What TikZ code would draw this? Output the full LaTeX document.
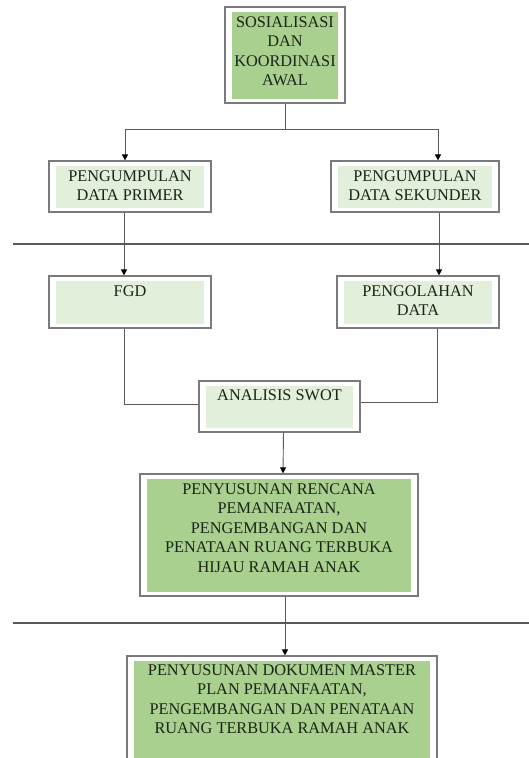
\documentclass[tikz,border=0pt]{standalone}
\usepackage{fontspec}
\setmainfont{Liberation Serif}
\usetikzlibrary{positioning, arrows.meta}
\definecolor{leafgreen}{HTML}{A9D08E}
\definecolor{palegreen}{HTML}{E2EFDA}
\definecolor{framegray}{HTML}{7A7A7A}
\definecolor{linegray}{HTML}{5A5A5A}
\definecolor{inkdark}{HTML}{1A2418}

\begin{document}
\begin{tikzpicture}[
    x=1pt, y=-1pt,
    panel/.style={
        rectangle, draw=framegray, line width=1.2pt, fill=white, inner sep=0pt,
        path picture={\fill[#1]
            ([xshift=7pt,yshift=4.5pt]path picture bounding box.south west) rectangle
            ([xshift=-7pt,yshift=-4.5pt]path picture bounding box.north east);}
    },
    txt/.style={inner sep=0pt, align=center, text=inkdark,
        font=\fontsize{16.3}{19.5}\selectfont},
    link/.style={draw=linegray, line width=0.9pt},
    arr/.style={link, -{Triangle[length=6pt,width=6pt,color=black]}},
    rule/.style={draw=linegray, line width=1.2pt},
]
\useasboundingbox (0,0) rectangle (529,758);
\clip (0,0) rectangle (529,758);

% Start
\node[panel=leafgreen, minimum width=120pt, minimum height=96pt] (sos) at (285,55) {};
\node[txt, below=10pt of sos.north] (sostxt) {SOSIALISASI\\DAN\\KOORDINASI\\AWAL};

% Data collection
\node[panel=palegreen, minimum width=162pt, minimum height=51pt] (pri) at (130,186.5) {};
\node[txt, below=10pt of pri.north] (pritxt) {PENGUMPULAN\\DATA PRIMER};
\node[panel=palegreen, minimum width=168pt, minimum height=51pt] (sek) at (415,186.5) {};
\node[txt, below=10pt of sek.north] (sektxt) {PENGUMPULAN\\DATA SEKUNDER};

% Processing
\node[panel=palegreen, minimum width=162pt, minimum height=52pt] (fgd) at (130,302) {};
\node[txt, below=10pt of fgd.north] (fgdtxt) {FGD};
\node[panel=palegreen, minimum width=162pt, minimum height=52pt] (olah) at (418,302) {};
\node[txt, below=10pt of olah.north] (olahtxt) {PENGOLAHAN\\DATA};

% Analysis
\node[panel=palegreen, minimum width=161pt, minimum height=51pt] (swot) at (279.5,406.5) {};
\node[txt, below=9pt of swot.north] (swottxt) {ANALISIS SWOT};

% Plan
\node[panel=leafgreen, minimum width=278pt, minimum height=122pt] (rencana) at (279,535) {};
\node[txt, below=10pt of rencana.north] (rencanatxt) {PENYUSUNAN RENCANA\\PEMANFAATAN,\\PENGEMBANGAN DAN\\PENATAAN RUANG TERBUKA\\HIJAU RAMAH ANAK};

% Master plan
\node[panel=leafgreen, minimum width=310pt, minimum height=120pt] (master) at (282,716) {};
\node[txt, below=9pt of master.north] (mastertxt) {PENYUSUNAN DOKUMEN MASTER\\PLAN PEMANFAATAN,\\PENGEMBANGAN DAN PENATAAN\\RUANG TERBUKA RAMAH ANAK};

% Separators
\coordinate (cutAl) at (13,244);
\coordinate (cutAr) at (529,244);
\coordinate (cutBl) at (13,623);
\coordinate (cutBr) at (529,623);
\draw[rule] (cutAl) -- (cutAr);
\draw[rule] (cutBl) -- (cutBr);

% Connectors
\coordinate (split) at ([yshift=-26pt]sos.south);
\draw[link] (sos.south) -- (split);
\draw[arr] (split) -| ([xshift=-5pt]pri.north);
\draw[arr] (split) -| ([xshift=23pt]sek.north);

\draw[arr] ([xshift=-6pt]pri.south) -- ([xshift=-6pt]fgd.north);
\draw[arr] ([xshift=24pt]sek.south) -- ([xshift=21pt]olah.north);

\draw[link] ([xshift=-6pt]fgd.south) |- ([yshift=2.5pt]swot.west);
\draw[link] ([xshift=19pt]olah.south) |- ([yshift=4.5pt]swot.east);

\draw[arr] ([xshift=4pt]swot.south) -- ([xshift=4pt]rencana.north);
\draw[arr] ([xshift=6pt]rencana.south) -- ([xshift=3pt]master.north);

\end{tikzpicture}
\end{document}
